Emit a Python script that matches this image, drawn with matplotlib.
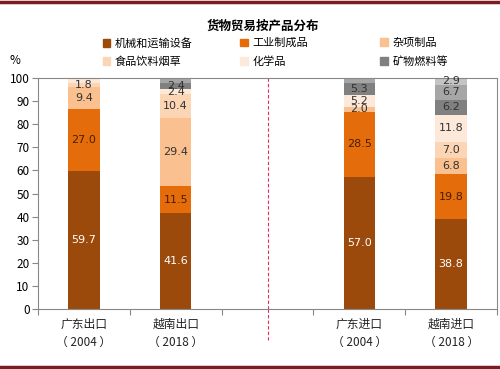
import matplotlib.pyplot as plt
from matplotlib.lines import Line2D
from matplotlib.patches import Patch

plt.rcParams['font.family'] = ['Noto Sans CJK SC', 'DejaVu Sans']

# ---------------- data ----------------
categories = ['广东出口\n（ 2004 ）', '越南出口\n（ 2018 ）', '', '广东进口\n（ 2004 ）', '越南进口\n（ 2018 ）']
xpos = [0, 1, 3, 4]

machinery = [59.7, 41.6, 57.0, 38.8]
industrial = [27.0, 11.5, 28.5, 19.8]
misc = [9.4, 29.4, 2.0, 6.8]
food = [1.8, 10.4, 0.0, 7.0]
chemicals = [1.5, 2.4, 5.2, 11.8]
minerals = [0.6, 2.4, 5.3, 6.2]
other1 = [0.0, 2.3, 2.0, 6.7]
other2 = [0.0, 0.0, 0.0, 2.9]

series = [
    ('机械和运输设备', machinery, '#9c4a0c', '#ffffff'),
    ('工业制成品', industrial, '#e46c0a', '#4a1e00'),
    ('杂项制品', misc, '#fac090', '#333333'),
    ('食品饮料烟草', food, '#fcd5b5', '#333333'),
    ('化学品', chemicals, '#fde9d9', '#333333'),
    ('矿物燃料等', minerals, '#808080', '#333333'),
    (None, other1, '#a6a6a6', '#333333'),
    (None, other2, '#c4c4c4', '#333333'),
]
# (bar, series) segments whose value is not printed
hidden = {(0, 4), (0, 5), (1, 6), (2, 6)}

fig = plt.figure(figsize=(5, 3.69), dpi=100)
ax = fig.add_axes([0.076, 0.1626, 0.918, 0.626])

bottom = [0.0] * len(xpos)
for si, (name, vals, color, tcolor) in enumerate(series):
    ax.bar(xpos, vals, width=0.34, bottom=bottom, color=color, linewidth=0)
    for bi, (x, v) in enumerate(zip(xpos, vals)):
        if v > 0 and (bi, si) not in hidden:
            ax.text(x, bottom[bi] + v / 2, f'{v:.1f}', ha='center', va='center',
                    fontsize=8, color=tcolor, family='DejaVu Sans')
    bottom = [b + v for b, v in zip(bottom, vals)]

ax.set_xlim(-0.5, 4.5)
ax.set_ylim(0, 100)
ax.set_yticks(range(0, 101, 10))
ax.set_xticks([i + 0.5 for i in range(-1, 5)])
ax.set_xticklabels([])
ax.set_xticks(range(5), minor=True)
ax.set_xticklabels(categories, minor=True, fontsize=8.5, color='#222222',
                   linespacing=1.6)
ax.tick_params(axis='x', which='minor', length=0, pad=6)
ax.tick_params(axis='x', which='major', length=4, color='#888888')
ax.tick_params(axis='y', length=4, color='#888888', labelsize=8.5, pad=2)
for sp in ax.spines.values():
    sp.set_color('#888888')
    sp.set_linewidth(0.8)

# dashed divider between exports and imports
ax.axvline(2, ymin=0, ymax=-0.135, color='#e0305a', linestyle=(0, (3, 2)),
           linewidth=0.8, clip_on=False)
ax.axvline(2, ymin=0, ymax=1, color='#e0305a', linestyle=(0, (3, 2)),
           linewidth=0.8)

fig.text(0.02, 0.835, '%', fontsize=8.5, ha='left', va='center')
fig.text(0.525, 0.93, '货物贸易按产品分布', fontsize=9, fontweight='bold',
         ha='center', va='center')

# legend: three columns of two entries
col_x = [0.205, 0.48, 0.76]
for ci, pair in enumerate([(0, 3), (1, 4), (2, 5)]):
    leg = fig.legend([Patch(color=series[i][2]) for i in pair],
                     [series[i][0] for i in pair],
                     loc='center left', bbox_to_anchor=(col_x[ci], 0.858),
                     frameon=False, fontsize=8, borderpad=0, borderaxespad=0,
                     handlelength=0.7, handleheight=0.7, handletextpad=0.4,
                     labelspacing=0.7)

# dark red page rules
fig.add_artist(Line2D([0, 1], [0.995, 0.995], color='#7a1c24', linewidth=2.5))
fig.add_artist(Line2D([0, 1], [0.005, 0.005], color='#7a1c24', linewidth=2.5))

fig.savefig('out.png', dpi=100)
